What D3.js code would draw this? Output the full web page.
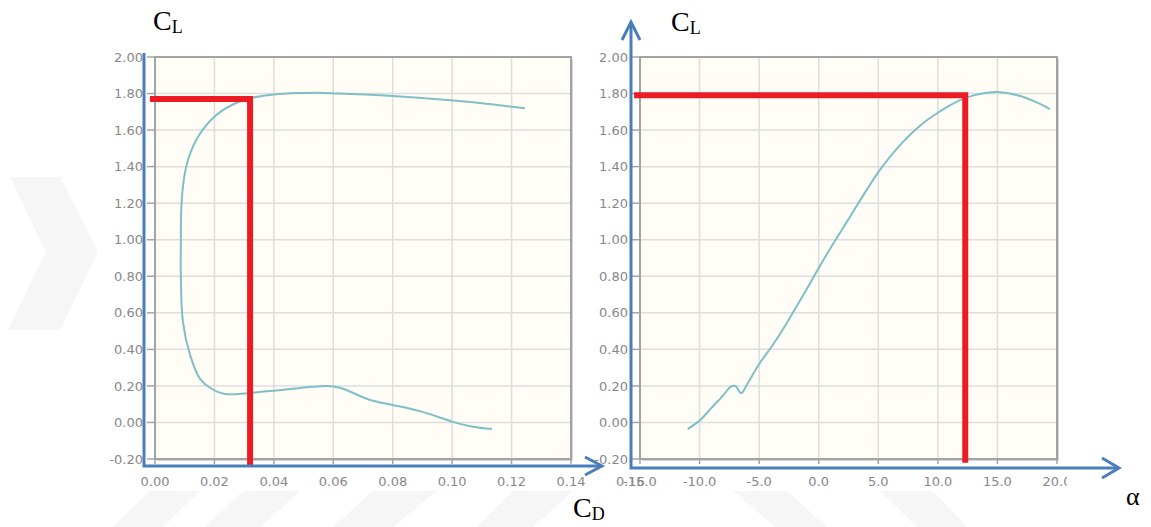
<!DOCTYPE html>
<html>
<head>
<meta charset="utf-8">
<script src="https://cdn.jsdelivr.net/npm/d3@7"></script>
<style>
  body { margin: 0; background: #ffffff; }
  svg { display: block; }
</style>
</head>
<body>
<div id="chart"></div>
<script>
// polar CL vs CD (left panel), ordered by angle of attack
const cdValues = [0.1134, 0.107, 0.1003, 0.090, 0.080, 0.0724, 0.0622, 0.0578, 0.0387, 0.0236,
  0.0185, 0.0151, 0.0118, 0.0094, 0.0087, 0.0087, 0.0088, 0.0094, 0.0105, 0.0120,
  0.0140, 0.0160, 0.0185, 0.0220, 0.0262, 0.0300, 0.0330, 0.0400, 0.0488, 0.0545,
  0.0622, 0.0800, 0.1016, 0.1245];
const clPolar = [-0.036, -0.024, 0.003, 0.058, 0.096, 0.123, 0.19, 0.20, 0.172, 0.156,
  0.19, 0.24, 0.37, 0.55, 0.80, 1.00, 1.15, 1.29, 1.40, 1.48,
  1.55, 1.60, 1.65, 1.70, 1.74, 1.765, 1.778, 1.795, 1.803, 1.805,
  1.80, 1.787, 1.76, 1.72];

// CL vs alpha (right panel)
const alphaValues = [-11.0, -10.0, -9.0, -8.0, -7.4, -7.0, -6.5, -6.0, -5.0, -4.0,
  -3.0, -2.0, -1.0, 0.0, 1.0, 2.0, 3.0, 4.0, 5.0,
  6.0, 7.0, 8.0, 9.0, 10.0, 11.0, 12.0, 13.0, 14.0, 15.0,
  16.0, 17.0, 18.0, 19.0, 19.4];
const clAlpha = [-0.036, 0.01, 0.08, 0.15, 0.195, 0.20, 0.16, 0.21, 0.32, 0.41,
  0.51, 0.62, 0.73, 0.845, 0.955, 1.06, 1.165, 1.27, 1.37,
  1.455, 1.53, 1.595, 1.65, 1.695, 1.735, 1.768, 1.79, 1.803, 1.808,
  1.80, 1.785, 1.76, 1.73, 1.715];

// tick labels
const clTicks = [-0.2, 0, 0.2, 0.4, 0.6, 0.8, 1.0, 1.2, 1.4, 1.6, 1.8, 2.0];
const cdTicks = [0, 0.02, 0.04, 0.06, 0.08, 0.10, 0.12, 0.14, 0.16];
const alphaTicks = [-15, -10, -5, 0, 5, 10, 15, 20];

// red read-off lines
const markerLeft = { cl: 1.77, cd: 0.032, fromCd: -0.0017, toCl: -0.233 };
const markerRight = { cl: 1.79, alpha: 12.3, fromAlpha: -15.5, toCl: -0.22 };

const width = 1151;
const height = 527;
const plotTop = 57, plotBottom = 459;

const svg = d3.select("#chart")
  .append("svg")
  .attr("width", width)
  .attr("height", height);

// faint watermark stripes
const wm = [
  [[150, 491], [200, 491], [163, 527], [113, 527]],
  [[243, 491], [300, 491], [260, 527], [205, 527]],
  [[373, 491], [437, 491], [393, 527], [333, 527]],
  [[513, 491], [573, 491], [533, 527], [477, 527]],
  [[733, 491], [787, 491], [827, 527], [775, 527]],
  [[880, 491], [933, 491], [967, 527], [917, 527]],
  [[10, 177], [60, 177], [98, 252], [60, 330], [8, 330], [46, 252]]
];
svg.append("g")
  .selectAll("polygon")
  .data(wm)
  .enter()
  .append("polygon")
  .attr("points", d => d.map(p => p.join(",")).join(" "))
  .style("fill", "#f6f6f6");

const y = d3.scaleLinear().domain([-0.2, 2.0]).range([plotBottom, plotTop]);
const xLeft = d3.scaleLinear().domain([0, 0.14]).range([155, 571]);
const xRight = d3.scaleLinear().domain([-15, 20]).range([640, 1057]);

svg.append("defs")
  .append("clipPath")
  .attr("id", "clip-right")
  .append("rect")
  .attr("x", 600).attr("y", 0).attr("width", 467).attr("height", 527);

function drawPanel(x, xTicks, xFormat, clip) {
  const g = svg.append("g");
  const [x0, x1] = x.range();

  // frame shadow + background
  g.append("rect")
    .attr("x", x0 + 2).attr("y", plotTop + 2)
    .attr("width", x1 - x0).attr("height", plotBottom - plotTop)
    .style("fill", "#d8d8d8");
  g.append("rect")
    .attr("x", x0).attr("y", plotTop)
    .attr("width", x1 - x0).attr("height", plotBottom - plotTop)
    .style("fill", "#fffdf5");

  // grid
  g.selectAll(".vgrid")
    .data(xTicks.filter(t => x(t) > x0 + 1 && x(t) < x1 - 1))
    .enter()
    .append("line")
    .attr("x1", d => x(d)).attr("x2", d => x(d))
    .attr("y1", plotTop).attr("y2", plotBottom)
    .style("stroke", "#dedede")
    .style("stroke-width", 1.5);
  g.selectAll(".hgrid")
    .data(clTicks.slice(1, -1))
    .enter()
    .append("line")
    .attr("x1", x0).attr("x2", x1)
    .attr("y1", d => y(d)).attr("y2", d => y(d))
    .style("stroke", "#dedede")
    .style("stroke-width", 1.5);

  g.append("rect")
    .attr("x", x0).attr("y", plotTop)
    .attr("width", x1 - x0).attr("height", plotBottom - plotTop)
    .style("fill", "none")
    .style("stroke", "#a3a3a3")
    .style("stroke-width", 2);

  // y ticks and labels
  g.selectAll(".ytick")
    .data(clTicks)
    .enter()
    .append("line")
    .attr("x1", x0 - 8).attr("x2", x0)
    .attr("y1", d => y(d)).attr("y2", d => y(d))
    .style("stroke", "#a3a3a3")
    .style("stroke-width", 1.5);
  g.selectAll(".ylab")
    .data(clTicks)
    .enter()
    .append("text")
    .attr("x", x0 - 12)
    .attr("y", d => y(d))
    .attr("dy", "0.36em")
    .attr("text-anchor", "end")
    .style("font-family", "DejaVu Sans, sans-serif")
    .style("font-size", "13px")
    .style("fill", "#888888")
    .text(d => d.toFixed(2));

  // x ticks and labels
  const xl = g.append("g").attr("clip-path", clip ? `url(#${clip})` : null);
  xl.selectAll(".xtick")
    .data(xTicks.filter(t => x(t) <= x1 + 1))
    .enter()
    .append("line")
    .attr("x1", d => x(d)).attr("x2", d => x(d))
    .attr("y1", plotBottom).attr("y2", plotBottom + 5)
    .style("stroke", "#a3a3a3")
    .style("stroke-width", 1.5);
  xl.selectAll(".xlab")
    .data(xTicks)
    .enter()
    .append("text")
    .attr("x", d => x(d))
    .attr("y", 486)
    .attr("text-anchor", "middle")
    .style("font-family", "DejaVu Sans, sans-serif")
    .style("font-size", "13px")
    .style("fill", "#888888")
    .text(xFormat);

  return g;
}

const leftPanel = drawPanel(xLeft, cdTicks, d => d.toFixed(2), null);
const rightPanel = drawPanel(xRight, alphaTicks, d => d.toFixed(1), "clip-right");

const curveColor = "#7fbfc6";

leftPanel.append("path")
  .datum(cdValues.map((d, i) => [d, clPolar[i]]))
  .attr("d", d3.line().x(d => xLeft(d[0])).y(d => y(d[1])).curve(d3.curveCatmullRom.alpha(0.5)))
  .style("fill", "none")
  .style("stroke", curveColor)
  .style("stroke-width", 2);

rightPanel.append("path")
  .datum(alphaValues.map((d, i) => [d, clAlpha[i]]))
  .attr("d", d3.line().x(d => xRight(d[0])).y(d => y(d[1])).curve(d3.curveCatmullRom.alpha(0.5)))
  .style("fill", "none")
  .style("stroke", curveColor)
  .style("stroke-width", 2);

// red read-off lines
const red = "#ed1c24";
leftPanel.append("path")
  .attr("d", d3.line()([
    [xLeft(markerLeft.fromCd), y(markerLeft.cl)],
    [xLeft(markerLeft.cd), y(markerLeft.cl)],
    [xLeft(markerLeft.cd), y(markerLeft.toCl)]
  ]))
  .style("fill", "none")
  .style("stroke", red)
  .style("stroke-width", 6)
  .style("stroke-linejoin", "miter");

rightPanel.append("path")
  .attr("d", d3.line()([
    [xRight(markerRight.fromAlpha), y(markerRight.cl)],
    [xRight(markerRight.alpha), y(markerRight.cl)],
    [xRight(markerRight.alpha), y(markerRight.toCl)]
  ]))
  .style("fill", "none")
  .style("stroke", red)
  .style("stroke-width", 6)
  .style("stroke-linejoin", "miter");

// blue hand-drawn axes
const blue = "#4a7ebb";
const axes = svg.append("g")
  .style("fill", "none")
  .style("stroke", blue)
  .style("stroke-width", 3);

axes.append("path").attr("d", "M144,53 L144,466 L602,466");
axes.append("path").attr("d", "M585,457 L602,466 L585,475");
axes.append("path").attr("d", "M631,22 L631,468 L1119,468");
axes.append("path").attr("d", "M622,40 L631,22 L640,40");
axes.append("path").attr("d", "M1102,458 L1119,468 L1102,478");

// axis names
function axisName(x, yPos, main, sub) {
  const t = svg.append("text")
    .attr("x", x)
    .attr("y", yPos)
    .style("font-family", "Liberation Serif, serif")
    .style("font-size", "28px")
    .style("fill", "#000");
  t.append("tspan").text(main);
  if (sub) {
    t.append("tspan")
      .attr("dy", 3)
      .style("font-size", "18px")
      .text(sub);
  }
}

axisName(153, 30, "C", "L");
axisName(671, 31, "C", "L");
axisName(573, 517, "C", "D");

svg.append("text")
  .attr("x", 1126)
  .attr("y", 505)
  .style("font-family", "Liberation Serif, serif")
  .style("font-size", "26px")
  .style("fill", "#000")
  .text("α");
</script>
</body>
</html>
